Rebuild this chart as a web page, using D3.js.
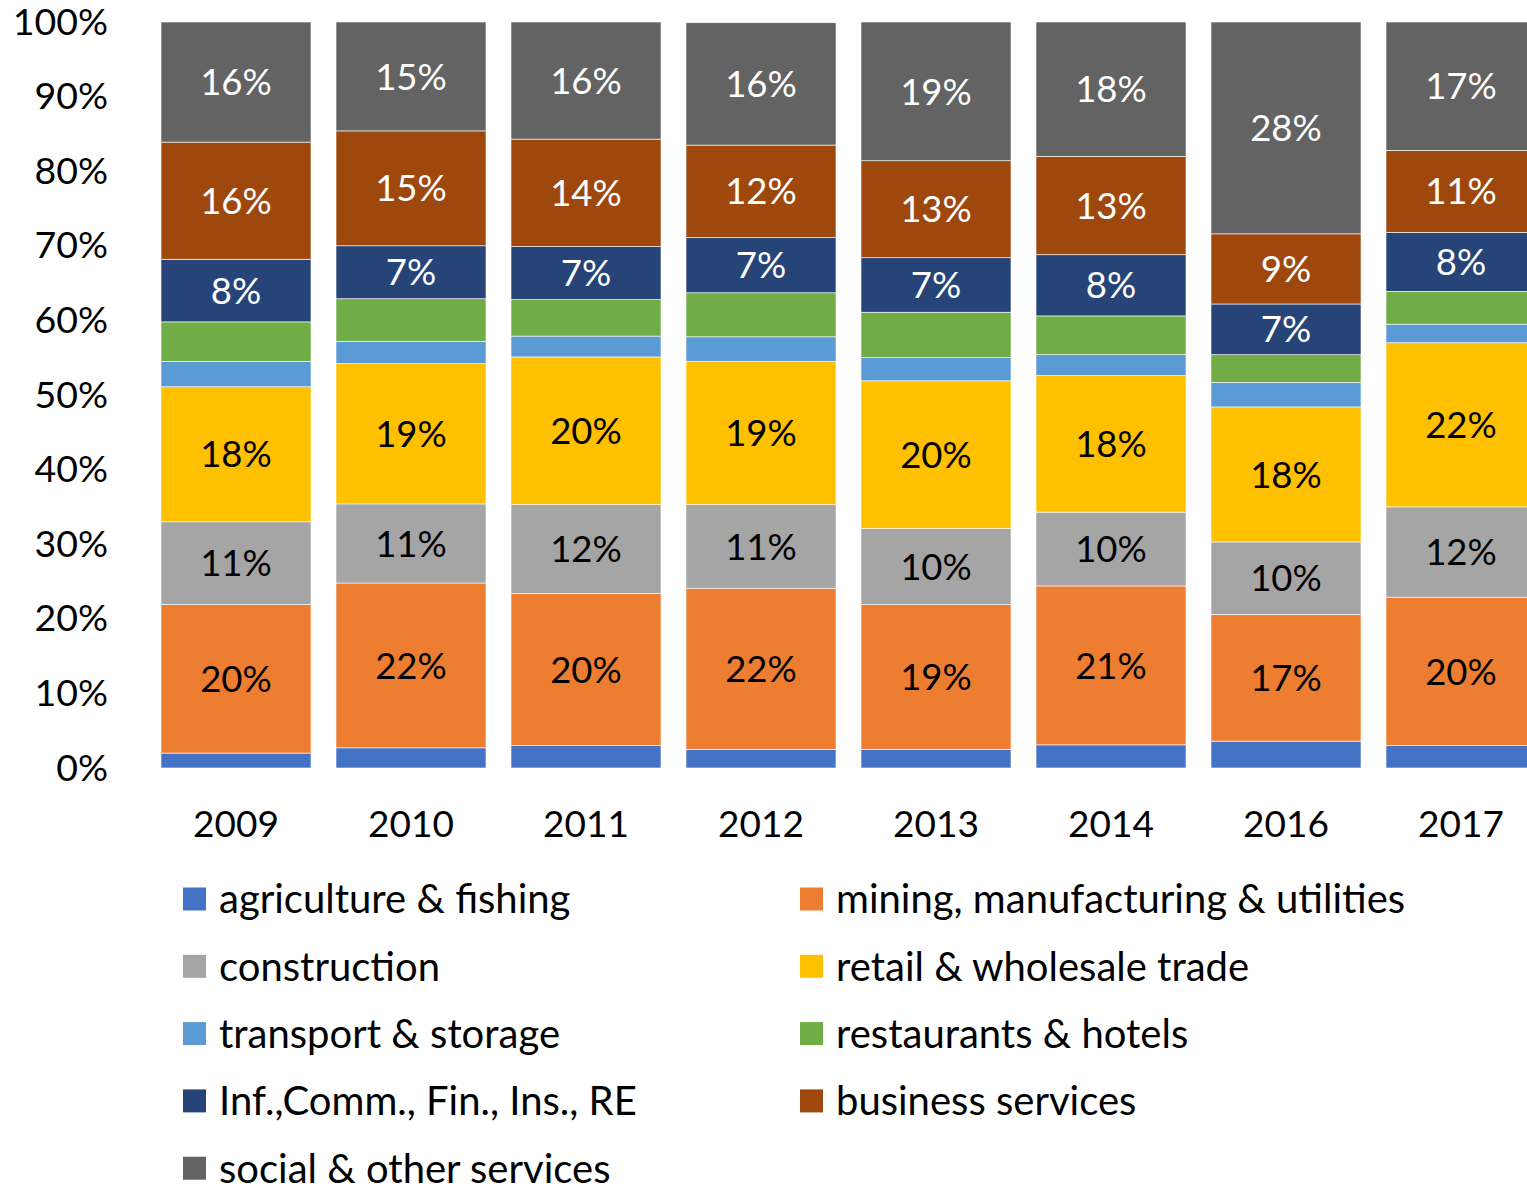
<!DOCTYPE html>
<html>
<head>
<meta charset="utf-8">
<script src="https://cdn.jsdelivr.net/npm/d3@7"></script>
<style>
  body { margin: 0; background: #fff; }
  svg text { font-family: Lato, "Open Sans", sans-serif; }
</style>
</head>
<body>
<div id="chart"></div>
<script>
// years on the x axis
const years = ["2009", "2010", "2011", "2012", "2013", "2014", "2016", "2017"]

// sectors, bottom to top
const sectors = [
    "agriculture & fishing",
    "mining, manufacturing & utilities",
    "construction",
    "retail & wholesale trade",
    "transport & storage",
    "restaurants & hotels",
    "Inf.,Comm., Fin., Ins., RE",
    "business services",
    "social & other services"
]

// shares in percent, one array per sector, one value per year
const agriculture = [2.0, 2.7, 3.0, 2.5, 2.5, 3.1, 3.6, 3.0]
const mining = [19.9, 22.1, 20.4, 21.6, 19.4, 21.3, 17.0, 19.9]
const construction = [11.1, 10.6, 11.9, 11.2, 10.2, 9.9, 9.7, 12.1]
const retail = [18.1, 18.8, 19.8, 19.2, 19.8, 18.3, 18.1, 22.0]
const transport = [3.4, 3.0, 2.8, 3.3, 3.1, 2.8, 3.3, 2.5]
const restaurants = [5.3, 5.7, 4.9, 5.9, 6.1, 5.2, 3.7, 4.4]
const infComm = [8.4, 7.1, 7.1, 7.4, 7.3, 8.2, 6.8, 7.9]
const business = [15.7, 15.4, 14.4, 12.4, 13.0, 13.2, 9.4, 11.0]
const social = [16.1, 14.6, 15.7, 16.4, 18.6, 18.0, 28.4, 17.2]

const yTicks = [0, 0.1, 0.2, 0.3, 0.4, 0.5, 0.6, 0.7, 0.8, 0.9, 1]

const seriesValues = [agriculture, mining, construction, retail, transport, restaurants, infComm, business, social]
const colors = ["#4472C4", "#ED7D31", "#A5A5A5", "#FFC000", "#5B9BD5", "#70AD47", "#264478", "#9E480E", "#636363"]
// which sectors get a value label, and in which colour
const labelColor = ["none", "#000", "#000", "#000", "none", "none", "#fff", "#fff", "#fff"]

const width = 1527, height = 1186

// build rows for d3.stack
const table = years.map((yr, i) => {
    const row = { year: yr }
    sectors.forEach((s, j) => { row[s] = seriesValues[j][i] / 100 })
    return row
})

const svg = d3.select("#chart")
    .append("svg")
    .attr("width", width)
    .attr("height", height)

svg.append("rect").attr("width", width).attr("height", height).attr("fill", "#fff")

// scales
const x = d3.scaleBand()
    .domain(years)
    .range([148.5, 1548.5])
    .paddingInner(25 / 175)
    .paddingOuter(12.5 / 175)

const y = d3.scaleLinear().domain([0, 1]).range([768, 22])

const color = d3.scaleOrdinal().domain(sectors).range(colors)

const stacked = d3.stack().keys(sectors)(table)

// bars
const layers = svg.append("g")
    .selectAll("g")
    .data(stacked)
    .join("g")
    .attr("fill", d => color(d.key))

layers.selectAll("rect")
    .data(d => d)
    .join("rect")
    .attr("x", d => x(d.data.year))
    .attr("width", x.bandwidth())
    .attr("y", d => y(d[1]))
    .attr("height", d => y(d[0]) - y(d[1]))
    .attr("stroke", "#fff")
    .attr("stroke-width", 0.6)

// value labels
stacked.forEach((layer, j) => {
    if (labelColor[j] === "none") return
    svg.append("g")
        .selectAll("text")
        .data(layer)
        .join("text")
        .attr("x", d => x(d.data.year) + x.bandwidth() / 2)
        .attr("y", d => y((d[0] + d[1]) / 2))
        .attr("dy", "0.36em")
        .attr("text-anchor", "middle")
        .attr("font-size", 36.5)
        .attr("fill", labelColor[j])
        .text(d => Math.round((d[1] - d[0]) * 100) + "%")
})

// y axis
const yAxis = svg.append("g")
    .attr("transform", "translate(118,0)")
    .call(d3.axisLeft(y).tickValues(yTicks).tickFormat(d3.format(".0%")).tickSize(0).tickPadding(10))
yAxis.select(".domain").remove()
yAxis.selectAll("text").attr("font-size", 37.5).attr("fill", "#000").style("font-family", "Lato, sans-serif")

// x axis
const xAxis = svg.append("g")
    .attr("transform", "translate(0,768)")
    .call(d3.axisBottom(x).tickSize(0).tickPadding(43))
xAxis.select(".domain").remove()
xAxis.selectAll("text").attr("font-size", 37).attr("fill", "#000").style("font-family", "Lato, sans-serif")

// legend, two columns, filled row by row
const legend = svg.append("g")
    .selectAll("g")
    .data(sectors)
    .join("g")
    .attr("transform", (d, i) => `translate(${i % 2 === 0 ? 183 : 800},${899 + Math.floor(i / 2) * 67.3})`)

legend.append("rect")
    .attr("y", -11.5)
    .attr("width", 23)
    .attr("height", 23)
    .attr("fill", d => color(d))

legend.append("text")
    .attr("x", 36)
    .attr("dy", "0.36em")
    .attr("font-size", 40)
    .attr("fill", "#000")
    .text(d => d)
</script>
</body>
</html>
